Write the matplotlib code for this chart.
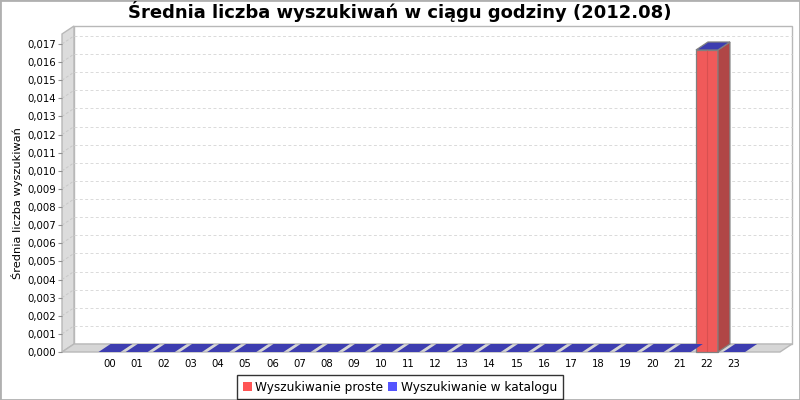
import matplotlib
matplotlib.use('Agg')
import matplotlib.pyplot as plt
from matplotlib.patches import Polygon, Rectangle, Patch
from matplotlib.lines import Line2D

# ---- data ----
hours = ["00", "01", "02", "03", "04", "05", "06", "07", "08", "09", "10", "11",
         "12", "13", "14", "15", "16", "17", "18", "19", "20", "21", "22", "23"]
proste = [0, 0, 0, 0, 0, 0, 0, 0, 0, 0, 0, 0,
          0, 0, 0, 0, 0, 0, 0, 0, 0, 0, 0.016667, 0]
katalog = [0, 0, 0, 0, 0, 0, 0, 0, 0, 0, 0, 0,
           0, 0, 0, 0, 0, 0, 0, 0, 0, 0, 0, 0]
series_names = ["Wyszukiwanie proste", "Wyszukiwanie w katalogu"]
yticks = [0.000, 0.001, 0.002, 0.003, 0.004, 0.005, 0.006, 0.007, 0.008,
          0.009, 0.010, 0.011, 0.012, 0.013, 0.014, 0.015, 0.016, 0.017]
title = "Średnia liczba wyszukiwań w ciągu godziny (2012.08)"
ylabel = "Średnia liczba wyszukiwań"

plt.rcParams['font.family'] = ['DejaVu Sans']

W, H = 800, 400
fig = plt.figure(figsize=(8, 4), dpi=100)
fig.patch.set_facecolor('white')

# front plane of the 3D plot (pixels)
L, R, T, B = 62, 780, 34, 352
ax = fig.add_axes([L / W, (H - B) / H, (R - L) / W, (B - T) / H])
ax.patch.set_visible(False)
for s in ax.spines.values():
    s.set_visible(False)

xmin, xmax = -1.75, 24.69
ymin, ymax = 0.0, 0.01755
ax.set_xlim(xmin, xmax)
ax.set_ylim(ymin, ymax)

# depth offset in data units
DX_PX, DY_PX = 12, 8
dx = DX_PX * (xmax - xmin) / (R - L)
dy = DY_PX * (ymax - ymin) / (B - T)

def poly(pts, fc, ec='none', lw=0.8, z=1):
    p = Polygon(pts, closed=True, facecolor=fc, edgecolor=ec, linewidth=lw,
                clip_on=False, zorder=z)
    ax.add_patch(p)

# back wall
poly([(xmin + dx, ymin + dy), (xmax + dx, ymin + dy), (xmax + dx, ymax + dy),
      (xmin + dx, ymax + dy)], 'white', '#b8b8b8', 1.0, z=0.5)
# left wall
poly([(xmin, ymin), (xmin + dx, ymin + dy), (xmin + dx, ymax + dy), (xmin, ymax)],
     '#dcdcdc', '#b8b8b8', 1.0, z=0.6)
# floor
poly([(xmin, ymin), (xmax, ymin), (xmax + dx, ymin + dy), (xmin + dx, ymin + dy)],
     '#d6d6d6', '#b8b8b8', 1.0, z=0.6)

# gridlines
for v in yticks[1:]:
    ax.add_line(Line2D([xmin + dx, xmax + dx], [v + dy, v + dy], color='#dadada',
                       lw=0.7, ls=(0, (3, 2.5)), clip_on=False, zorder=0.7))
    ax.add_line(Line2D([xmin, xmin + dx], [v, v + dy], color='#c8c8c8',
                       lw=0.7, ls=(0, (3, 2)), clip_on=False, zorder=0.7))

# bars (stacked 3D)
bw = 0.81
red_front = '#f05a5a'
red_side = '#b04646'
blue_top = '#3d3db0'
for i, (a, b) in enumerate(zip(proste, katalog)):
    x0, x1 = i - bw / 2, i + bw / 2
    if a > 0:
        poly([(x0, 0), (x1, 0), (x1, a), (x0, a)], red_front, '#808080', 0.9, z=2)
        ax.add_line(Line2D([i, i], [0, a], color='#d85050', lw=0.8, zorder=2.1))
        poly([(x1, 0), (x1 + dx, dy), (x1 + dx, a + dy), (x1, a)], red_side,
             '#808080', 0.9, z=2)
    top = a + b
    if b > 0:
        poly([(x0, a), (x1, a), (x1, top), (x0, top)], '#5555ff', '#808080', 0.9, z=2.2)
    poly([(x0, top), (x1, top), (x1 + dx, top + dy), (x0 + dx, top + dy)],
         blue_top, '#808080' if a > 0 else 'none', 0.9, z=2.3)

# axes ticks
ax.set_yticks(yticks)
ax.set_yticklabels([f"{v:.3f}".replace('.', ',') for v in yticks], fontsize=7.3)
ax.tick_params(axis='y', length=3, width=0.8, color='#909090', pad=1.5)
ax.set_xticks(range(len(hours)))
ax.set_xticklabels(hours, fontsize=7.3)
ax.tick_params(axis='x', length=0, pad=5)

fig.text(400 / W, 1 - 12 / H, title, ha='center', va='center',
         fontsize=13, fontweight='bold')
fig.text(17 / W, 1 - 203 / H, ylabel, ha='center', va='center', rotation=90,
         fontsize=8.2)

handles = [Patch(facecolor='#ff5555', edgecolor='none', label=series_names[0]),
           Patch(facecolor='#5555ff', edgecolor='none', label=series_names[1])]
leg = fig.legend(handles=handles, loc='center', bbox_to_anchor=(400 / W, 1 - 387 / H),
                 ncol=2, fontsize=8.7, frameon=True, fancybox=False,
                 edgecolor='black', handlelength=0.75, handleheight=0.75,
                 handletextpad=0.3, columnspacing=0.4, borderpad=0.45,
                 borderaxespad=0)
leg.get_frame().set_linewidth(1.0)

fig.patches.append(Rectangle((0, 0), 1, 1, transform=fig.transFigure, fill=False,
                             edgecolor='#b0b0b0', linewidth=2))

fig.savefig('out.png', dpi=100)
